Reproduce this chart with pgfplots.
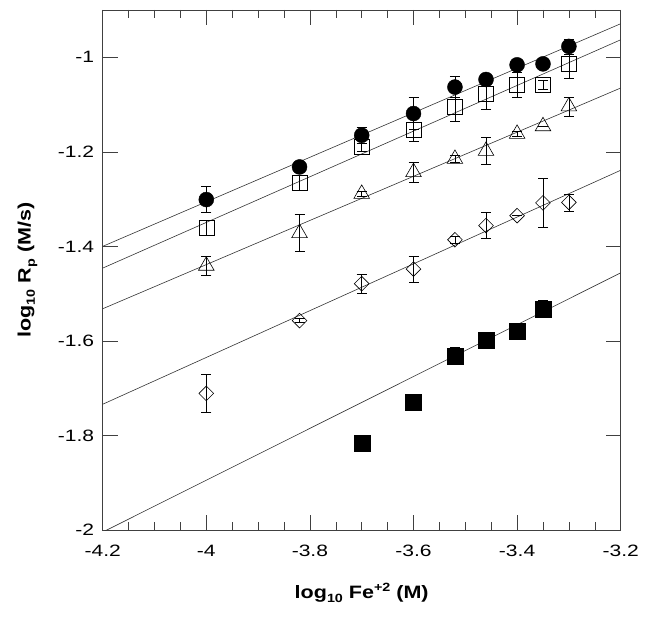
\documentclass[border=0pt]{standalone}
\usepackage{pgfplots}
\usepackage{pgfplotstable}
\pgfplotsset{compat=1.18}
\usepackage{fontspec}
\setmainfont{Liberation Sans}
\newfontfamily\tickfont[FakeStretch=1.28]{Liberation Sans}
\newfontfamily\labfont[FakeStretch=1.2]{Liberation Sans}
\newcommand{\mysub}[1]{\raisebox{-0.45ex}{\fontsize{12}{12}\selectfont #1}}
\newcommand{\mysup}[1]{\raisebox{0.7ex}{\fontsize{12}{12}\selectfont #1}}
\pgfplotstableread{
x y e
-4 -1.361 0.016
-3.82 -1.265 0.016
-3.7 -1.190 0.008
-3.6 -1.153 0.024
-3.52 -1.104 0.032
-3.46 -1.078 0.033
-3.4 -1.058 0.027
-3.35 -1.058 0.010
-3.3 -1.014 0.030
}\opensq
\pgfplotstableread{
x y e
-4 -1.301 0.027
-3.82 -1.232 0
-3.7 -1.165 0.017
-3.6 -1.119 0.034
-3.52 -1.063 0.022
-3.46 -1.047 0
-3.4 -1.016 0
-3.35 -1.014 0
-3.3 -0.977 0.016
}\circ
\pgfplotstableread{
x y e
-4 -1.441 0.020
-3.82 -1.372 0.039
-3.7 -1.289 0.006
-3.6 -1.243 0.021
-3.52 -1.215 0.008
-3.46 -1.198 0.028
-3.4 -1.162 0.005
-3.35 -1.146 0
-3.3 -1.104 0.020
}\tri
\pgfplotstableread{
x y e
-4 -1.711 0.041
-3.82 -1.557 0.004
-3.7 -1.479 0.020
-3.6 -1.448 0.028
-3.52 -1.386 0.008
-3.46 -1.356 0.028
-3.4 -1.335 0
-3.35 -1.308 0.052
-3.3 -1.307 0.018
}\dia
\pgfplotstableread{
x y e
-3.7 -1.816 0
-3.6 -1.730 0
-3.52 -1.632 0.018
-3.46 -1.599 0
-3.4 -1.580 0
-3.35 -1.533 0.018
}\fsq
\begin{document}
\begin{tikzpicture}
\pgfplotsset{
  eb/.style={forget plot, draw=none, mark=none,
    error bars/.cd, y dir=both, y explicit,
    error bar style={draw=black, line width=0.6pt},
    error mark options={draw=black, rotate=90, mark size=5bp, line width=0.6pt}},
  fit/.style={black!80, line width=0.6pt, no marks, forget plot},
}
\begin{axis}[
  scale only axis,
  width=518bp, height=520bp,
  xmin=-4.2, xmax=-3.2, ymin=-2, ymax=-0.9,
  xtick={-4.2,-4,-3.8,-3.6,-3.4,-3.2},
  ytick={-2,-1.8,-1.6,-1.4,-1.2,-1},
  minor x tick num=3,
  yminorticks=false,
  tick align=inside,
  major tick length=15bp, minor tick length=8bp,
  axis line style={black!75, line width=0.7pt},
  every tick/.style={black!75, line width=0.6pt},
  /pgf/number format/assume math mode=true,
  ticklabel style={font=\tickfont\fontsize{16.5}{16.5}\selectfont},
  xticklabel style={yshift=-12bp},
  yticklabel style={xshift=-5bp},
  xticklabels={-4.2,-4,-3.8,-3.6,-3.4,-3.2},
  yticklabels={-2,-1.8,-1.6,-1.4,-1.2,-1},
  xlabel={\textbf{log\mysub{10} Fe\mysup{+2} (M)}},
  ylabel={\textbf{log\mysub{10} R\mysub{p} (M/s)}},
  label style={font=\labfont\fontsize{18}{18}\selectfont},
  xlabel style={at={(axis description cs:0.5,-0.121)}, anchor=center},
  ylabel style={at={(axis description cs:-0.145,0.5)}, anchor=center},
]
\coordinate (O) at (rel axis cs:0,0);
% fit lines
\addplot[fit] coordinates {(-4.2,-1.400) (-3.2,-0.929)};
\addplot[fit] coordinates {(-4.2,-1.446) (-3.2,-0.963)};
\addplot[fit] coordinates {(-4.2,-1.532) (-3.2,-1.065)};
\addplot[fit] coordinates {(-4.2,-1.734) (-3.2,-1.239)};
\addplot[fit] coordinates {(-4.2,-2.0044) (-3.2,-1.456)};
% error bars (behind marks)
\addplot[eb] table[x=x, y=y, y error=e] {\opensq};
\addplot[eb] table[x=x, y=y, y error=e] {\circ};
\addplot[eb] table[x=x, y=y, y error=e] {\tri};
\addplot[eb] table[x=x, y=y, y error=e] {\dia};
\addplot[eb] table[x=x, y=y, y error=e] {\fsq};
% markers
\addplot[only marks, mark=square, mark size=7.5bp, mark options={black, fill=white, line width=0.6pt}]
 table[x=x, y=y] {\opensq};
\addplot[only marks, mark=*, mark size=7.5bp, mark options={black, fill=black}]
 table[x=x, y=y] {\circ};
\addplot[only marks, mark=triangle, mark size=9bp, mark options={black, fill=white, line width=0.6pt}]
 table[x=x, y=y] {\tri};
\addplot[only marks, mark=square, mark size=5.2bp, mark options={black, fill=white, rotate=45, line width=0.6pt}]
 table[x=x, y=y] {\dia};
\addplot[only marks, mark=square*, mark size=8bp, mark options={black, fill=black}]
 table[x=x, y=y] {\fsq};
\end{axis}
\pgfresetboundingbox
\path[use as bounding box] (O) ++(-102.7bp,-103bp) rectangle ++(649bp,633bp);
\end{tikzpicture}
\end{document}
